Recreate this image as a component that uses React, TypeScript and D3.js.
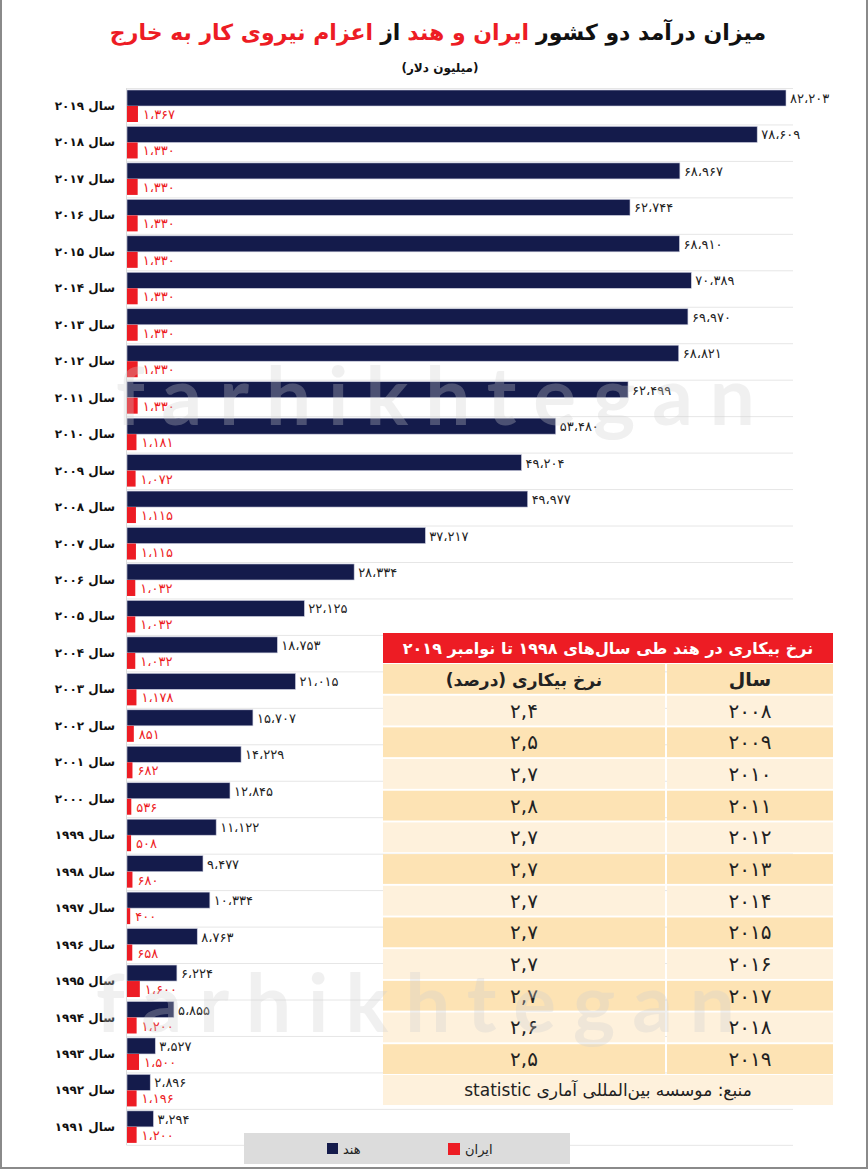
import React, { useEffect, useRef } from 'react';
import * as d3 from 'd3';

// درآمد از اعزام نیروی کار (میلیون دلار)
const years = [2019, 2018, 2017, 2016, 2015, 2014, 2013, 2012, 2011, 2010, 2009, 2008, 2007, 2006, 2005, 2004, 2003, 2002, 2001, 2000, 1999, 1998, 1997, 1996, 1995, 1994, 1993, 1992, 1991];
const india = [82203, 78609, 68967, 62744, 68910, 70389, 69970, 68821, 62499, 53480, 49204, 49977, 37217, 28334, 22125, 18753, 21015, 15707, 14229, 12845, 11122, 9477, 10334, 8763, 6224, 5855, 3527, 2896, 3294];
const iran = [1367, 1330, 1330, 1330, 1330, 1330, 1330, 1330, 1330, 1181, 1072, 1115, 1115, 1032, 1032, 1032, 1178, 851, 682, 536, 508, 680, 400, 658, 1600, 1200, 1500, 1196, 1200];

// نرخ بیکاری در هند
const rateYears = [2008, 2009, 2010, 2011, 2012, 2013, 2014, 2015, 2016, 2017, 2018, 2019];
const rates = [2.4, 2.5, 2.7, 2.8, 2.7, 2.7, 2.7, 2.7, 2.7, 2.7, 2.6, 2.5];

const titleParts = [
  { t: 'میزان درآمد دو کشور', red: false },
  { t: 'ایران و هند', red: true },
  { t: 'از', red: false },
  { t: 'اعزام نیروی کار به خارج', red: true },
];

const NAVY = '#141b4b';
const RED = '#ed1c24';
const FONT = '"DejaVu Sans", sans-serif';

const fa = (s: string) => s.replace(/[0-9]/g, d => '۰۱۲۳۴۵۶۷۸۹'[+d]);
const fmt = (v: number) => fa(d3.format(',')(v)).replace(/,/g, '،');
const fmtRate = (v: number) => fa(d3.format('.1f')(v)).replace('.', ',');

export default function App() {
  const titleRef = useRef<SVGGElement>(null);

  // title: colored pieces laid out right to left
  useEffect(() => {
    const g = d3.select(titleRef.current);
    g.selectAll('*').remove();
    const texts = titleParts.map(p =>
      g.append('text')
        .attr('y', 40)
        .attr('text-anchor', 'end')
        .attr('font-size', 22)
        .attr('font-weight', 'bold')
        .attr('fill', p.red ? RED : '#111')
        .text(p.t)
    );
    const gap = 7;
    const widths = texts.map(t => (t.node() as SVGTextElement).getComputedTextLength());
    const total = d3.sum(widths) + gap * (widths.length - 1);
    let cursor = 438 + total / 2;
    texts.forEach((t, i) => {
      t.attr('x', cursor);
      cursor -= widths[i] + gap;
    });
  }, []);

  const x = d3.scaleLinear().domain([0, 82203]).range([127, 786]);
  const y = d3.scaleBand<number>().domain(years).range([88, 88 + years.length * 36.46]);

  const tableRows = ['head', ...rateYears.map(String)];
  const ty = d3.scaleBand<string>().domain(tableRows).range([664, 1074]).paddingInner(0.06);
  const colL = [383, 665];
  const colR = [667, 833];
  const lightRow = '#fef1dc';
  const darkRow = '#fde3b4';

  return (
    <svg width={868} height={1170} style={{ position: 'absolute', left: 0, top: 0, display: 'block', background: '#fff' }} fontFamily={FONT}>
      <rect x={1} y={-2} width={866} height={1170} fill="none" stroke="#8a8a8a" strokeWidth={2} />

      {/* title */}
      <g ref={titleRef} />
      <text x={440} y={72} direction="rtl" textAnchor="middle" fontSize={12} fontWeight="bold" fill="#111">(میلیون دلار)</text>

      {/* grid */}
      {years.map(yr => (
        <line key={'g' + yr} x1={127} x2={793} y1={y(yr)! + 0.5} y2={y(yr)! + 0.5} stroke="#e6e6e6" />
      ))}
      <line x1={127} x2={793} y1={y.range()[1]} y2={y.range()[1]} stroke="#e6e6e6" />
      <line x1={126.5} x2={126.5} y1={88} y2={y.range()[1]} stroke="#dcdcdc" />

      {/* bars */}
      {years.map((yr, i) => {
        const b = y(yr)!;
        return (
          <g key={yr}>
            <text x={115} y={b + 22} textAnchor="end" fontSize={12} fontWeight="bold" fill="#111">{'سال ' + fa(String(yr))}</text>
            <rect x={x(0)} y={b + 2} width={x(india[i]) - x(0)} height={16} fill={NAVY} stroke="#c9cbdc" strokeWidth={0.6} />
            <rect x={x(0)} y={b + 18} width={x(iran[i]) - x(0)} height={16} fill={RED} />
            <text x={x(india[i]) + 4} y={b + 15} fontSize={13} fill="#222">{fmt(india[i])}</text>
            <text x={x(iran[i]) + 5} y={b + 31} fontSize={13} fill={RED}>{fmt(iran[i])}</text>
          </g>
        );
      })}

      {/* table */}
      <rect x={colL[0]} y={633} width={colR[1] - colL[0]} height={30} fill={RED} />
      <text x={(colL[0] + colR[1]) / 2} y={654} direction="rtl" textAnchor="middle" fontSize={16} fontWeight="bold" fill="#fff">
        نرخ بیکاری در هند طی سال‌های ۱۹۹۸ تا نوامبر ۲۰۱۹
      </text>
      {tableRows.map((r, i) => {
        const top = ty(r)!;
        const h = ty.bandwidth();
        const fill = i % 2 === 0 ? darkRow : lightRow;
        const isHead = r === 'head';
        return (
          <g key={r}>
            <rect x={colL[0]} y={top} width={colL[1] - colL[0]} height={h} fill={fill} />
            <rect x={colR[0]} y={top} width={colR[1] - colR[0]} height={h} fill={fill} />
            <text x={(colR[0] + colR[1]) / 2} y={top + h / 2 + 7} textAnchor="middle" direction="rtl"
              fontSize={isHead ? 19 : 20} fontWeight={isHead ? 'bold' : 'normal'} letterSpacing={isHead ? 0 : 2} fill="#222">
              {isHead ? 'سال' : fa(r)}
            </text>
            <text x={(colL[0] + colL[1]) / 2} y={top + h / 2 + 7} textAnchor="middle" direction="rtl"
              fontSize={isHead ? 17 : 20} fontWeight={isHead ? 'bold' : 'normal'} fill="#222">
              {isHead ? 'نرخ بیکاری (درصد)' : fmtRate(rates[i - 1])}
            </text>
          </g>
        );
      })}
      <rect x={colL[0]} y={1075} width={colR[1] - colL[0]} height={30} fill={lightRow} />
      <text x={(colL[0] + colR[1]) / 2} y={1096} direction="rtl" textAnchor="middle" fontSize={17} fill="#222">
        منبع: موسسه بین‌المللی آماری statistic
      </text>

      {/* watermark */}
      <g fill="#cfcfcf" opacity={0.3} fontFamily="Lato, sans-serif" fontWeight="bold" fontSize={80} letterSpacing={17}>
        <text x={116} y={425}>farhikhtegan</text>
        <text x={96} y={1032}>farhikhtegan</text>
      </g>

      {/* legend */}
      <rect x={244} y={1133} width={326} height={31} fill="#dcdcdc" />
      <rect x={448} y={1143} width={12} height={12} fill={RED} />
      <text x={465} y={1154} fontSize={13} fill="#222">ایران</text>
      <rect x={327} y={1143} width={11} height={11} fill={NAVY} />
      <text x={343} y={1154} fontSize={13} fill="#222">هند</text>
    </svg>
  );
}
